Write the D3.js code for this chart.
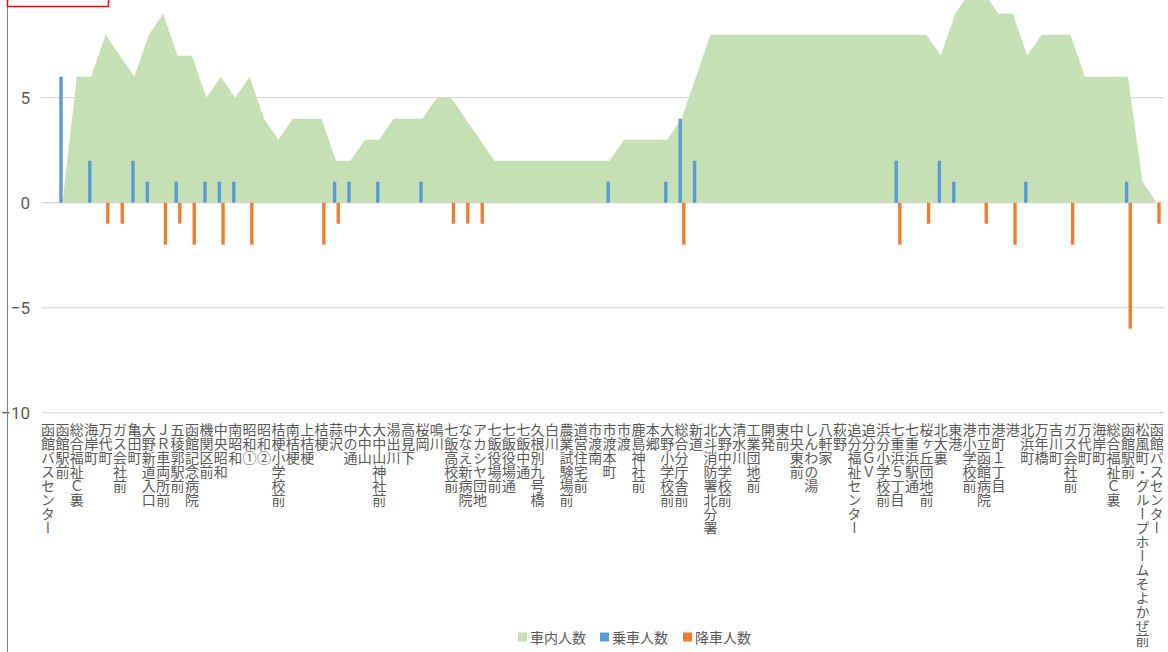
<!DOCTYPE html>
<html>
<head>
<meta charset="utf-8">
<script src="https://cdn.jsdelivr.net/npm/d3@7"></script>
<style>
  html, body { margin: 0; padding: 0; background: #fff; }
  svg { display: block; }
  .cat { font-family: "Noto Sans CJK JP", "Noto Sans CJK SC", sans-serif; font-size: 14px; fill: #595959;
         writing-mode: vertical-rl; text-orientation: upright; }
  .ytick { font-family: "Liberation Sans Narrow", "Roboto", sans-serif; font-size: 17px; fill: #595959; }
  .leg { font-family: "Noto Sans CJK JP", sans-serif; font-size: 14px; fill: #595959; }
</style>
</head>
<body>
<svg id="chart" width="1168" height="652"></svg>
<script>
const categories = [
  "函館バスセンター","函館駅前","総合福祉Ｃ裏","海岸町","万代町","ガス会社前","亀田町","大野新道入口",
  "ＪＲ車両所前","五稜郭駅前","函館記念病院","機関区前","中央昭和","南昭和","昭和①","昭和②",
  "桔梗小学校前","南桔梗","上桔梗","桔梗","蒜沢","中の通","大中山","大中山神社前",
  "湯出川","高見下","桜岡","鳴川","七飯高校前","ななえ新病院","アカシヤ団地","七飯役場前",
  "七飯役場通","七飯中通","久根別九号橋","白川","農業試験場前","道営住宅前","市渡南","市渡本町",
  "市渡","鹿島神社前","本郷","大野小学校前","総合分庁舎前","新道","北斗消防署北分署","大野中学校前",
  "清水川","工業団地前","開発","東前","中央東前","しんわの湯","八軒家","萩野",
  "追分福祉センター","追分ＧＶ","浜分小学校前","七重浜５丁目","七重浜駅通","桜ヶ丘団地前","北大裏","東港",
  "港小学校前","市立函館病院","港町１丁目","港","北浜町","万年橋","吉川町","ガス会社前",
  "万代町","海岸町","総合福祉Ｃ裏","函館駅前","松風町・グループホームそよかぜ前","函館バスセンター"
];
// 車内人数
const onboard = [
  0,0,6,6,8,7,6,8, 9,7,7,5,6,5,6,4, 3,4,4,4,2,2,3,3, 4,4,4,5,5,4,3,2,
  2,2,2,2,2,2,2,2, 3,3,3,3,4,6,8,8, 8,8,8,8,8,8,8,8, 8,8,8,8,8,8,7,9,
  10,10,9,9,7,8,8,8, 6,6,6,6,1,0
];
// 乗車人数
const boarding = [
  0,6,0,2,0,0,2,1, 0,1,0,1,1,1,0,0, 0,0,0,0,1,1,0,1, 0,0,1,0,0,0,0,0,
  0,0,0,0,0,0,0,1, 0,0,0,1,4,2,0,0, 0,0,0,0,0,0,0,0, 0,0,0,2,0,0,2,1,
  0,0,0,0,1,0,0,0, 0,0,0,1,0,0
];
// 降車人数
const alighting = [
  0,0,0,0,-1,-1,0,0, -2,-1,-2,0,-2,0,-2,0, 0,0,0,-2,-1,0,0,0, 0,0,0,0,-1,-1,-1,0,
  0,0,0,0,0,0,0,0, 0,0,0,0,-2,0,0,0, 0,0,0,0,0,0,0,0, 0,0,0,-2,0,-1,0,0,
  0,-1,0,-2,0,0,0,-2, 0,0,0,-6,0,-1
];
const yTicks = [-10, -5, 0, 5];
const seriesNames = ["車内人数", "乗車人数", "降車人数"];
const colors = { "車内人数": "#C5E0B4", "乗車人数": "#5B9BD5", "降車人数": "#ED7D31" };

const svg = d3.select("#chart");
const x = d3.scaleBand().domain(d3.range(categories.length)).range([40.8, 1164]).padding(0);
const cx = i => x(i) + x.bandwidth() / 2;
const y = d3.scaleLinear().domain([-10, 10]).range([412.7, -7.3]);
const sub = d3.scaleBand().domain(["乗車人数", "降車人数"]).range([-3.4, 4.2]).padding(0.08);

// gridlines
svg.append("g").selectAll("line").data(yTicks).join("line")
  .attr("x1", 41.5).attr("x2", 1164)
  .attr("y1", d => y(d)).attr("y2", d => y(d))
  .attr("stroke", "#D9D9D9").attr("stroke-width", 1.3);

// area
const area = d3.area().x((d, i) => cx(i)).y0(y(0)).y1(d => y(d));
svg.append("path").datum(onboard).attr("d", area).attr("fill", colors["車内人数"]);

// zero line over area
svg.append("line").attr("x1", 41.5).attr("x2", 1164).attr("y1", y(0)).attr("y2", y(0))
  .attr("stroke", "#D9D9D9").attr("stroke-width", 1.3);

// bars
function drawBars(vals, name) {
  svg.append("g").selectAll("rect").data(vals.map((v, i) => ({ v, i })).filter(d => d.v !== 0)).join("rect")
    .attr("x", d => cx(d.i) + sub(name))
    .attr("width", sub.bandwidth())
    .attr("y", d => Math.min(y(d.v), y(0)))
    .attr("height", d => Math.abs(y(d.v) - y(0)))
    .attr("fill", colors[name]);
}
drawBars(boarding, "乗車人数");
drawBars(alighting, "降車人数");

// y axis labels
const yAxis = d3.axisLeft(y).tickValues(yTicks).tickSize(0).tickPadding(0);
const ya = svg.append("g").attr("transform", "translate(30,0)").call(yAxis);
ya.select(".domain").remove();
ya.selectAll("text").attr("class", "ytick").attr("font-size", null).attr("font-family", null).attr("fill", null);

// category labels
svg.append("g").selectAll("text").data(categories).join("text")
  .attr("class", "cat")
  .attr("x", (d, i) => cx(i))
  .attr("y", 423)
  .text(d => d);

// left border line
svg.append("line").attr("x1", 7.5).attr("x2", 7.5).attr("y1", 0).attr("y2", 652)
  .attr("stroke", "#7F7F7F").attr("stroke-width", 1);

// red box at top-left
svg.append("rect").attr("x", 7.5).attr("y", -6).attr("width", 101).attr("height", 12.5)
  .attr("fill", "none").attr("stroke", "#FF0000").attr("stroke-width", 1.5);

// legend
const legX = [518, 600, 683];
const leg = svg.append("g").selectAll("g").data(seriesNames).join("g")
  .attr("transform", (d, i) => `translate(${legX[i]},637)`);
leg.append("rect").attr("x", 0).attr("y", -4.5).attr("width", 9).attr("height", 9).attr("fill", d => colors[d]);
leg.append("text").attr("class", "leg").attr("x", 12).attr("y", 0).attr("dominant-baseline", "central").text(d => d);
</script>
</body>
</html>
